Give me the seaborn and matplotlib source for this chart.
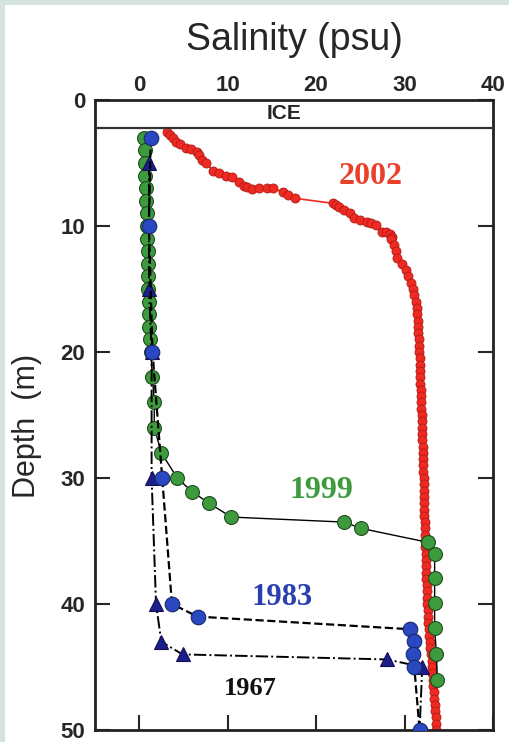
import matplotlib
matplotlib.use('Agg')
import matplotlib.pyplot as plt
import seaborn as sns
from matplotlib.patches import Rectangle

# salinity (psu) against depth (m)
depth_2002 = [2.5, 2.8, 3.0, 3.3, 3.5, 3.8, 3.9, 4.1, 4.4, 4.8, 5.0, 5.6, 5.8,
              6.0, 6.1, 6.5, 6.8, 6.9, 7.1, 7.0, 6.95, 7.0, 7.3, 7.5, 7.8,
              8.2, 8.3, 8.5, 8.7, 9.0, 9.4, 9.5, 9.7, 9.8, 9.9, 10.5, 10.5, 10.6, 10.9,
              11.0, 11.5, 12.0, 12.5,
              13.0, 13.5, 14.0, 14.5, 15.0, 15.5, 16.0, 16.5, 17.0, 17.5, 18.0,
              18.5, 19.0, 19.5, 20.0, 20.5, 21.0, 21.5, 22.0, 22.5, 23.0, 23.5,
              24.0, 24.5, 25.0, 25.5, 26.0, 26.5, 27.0, 27.5, 28.0, 28.5, 29.0,
              29.5, 30.0, 30.5, 31.0, 31.5, 32.0, 32.5, 33.0, 33.5, 34.0, 34.5,
              35.0, 35.5, 36.0, 36.5, 37.0, 37.5, 38.0, 38.5, 39.0, 39.5, 40.0,
              40.5, 41.0, 41.5, 42.0, 42.5, 43.0, 43.5, 44.0, 44.5, 45.0, 45.5,
              46.0, 46.5, 47.0, 47.5, 48.0, 48.5, 49.0, 49.5, 50.0]
sal_2002 = [3.1, 3.5, 3.8, 4.2, 4.6, 5.3, 5.8, 6.5, 6.8, 7.1, 7.6, 8.3, 9.0,
            9.8, 10.5, 11.3, 11.8, 12.2, 12.8, 13.5, 14.5, 15.1, 16.2, 16.8, 17.6,
            21.9, 22.3, 22.6, 23.2, 23.8, 24.3, 25.0, 25.7, 26.2, 26.8, 27.5, 27.9, 28.3, 28.6,
            28.5, 28.8, 29.0, 29.2,
            29.7, 30.2, 30.4, 30.7, 30.9, 31.1, 31.3, 31.4, 31.45, 31.5, 31.5,
            31.55, 31.6, 31.6, 31.65, 31.7, 31.7, 31.75, 31.8, 31.8, 31.85, 31.9,
            31.9, 31.9, 31.95, 31.95, 32.0, 32.0, 32.0, 32.05, 32.05, 32.1, 32.1,
            32.1, 32.15, 32.15, 32.2, 32.2, 32.2, 32.25, 32.25, 32.3, 32.3, 32.3,
            32.35, 32.35, 32.4, 32.4, 32.4, 32.45, 32.45, 32.5, 32.5, 32.5, 32.55,
            32.6, 32.6, 32.7, 32.75, 32.8, 32.85, 32.9, 33.0, 33.05, 33.1, 33.15,
            33.2, 33.25, 33.3, 33.35, 33.4, 33.45, 33.5, 33.55, 33.6]

depth_1999 = [3, 4, 5, 6, 7, 8, 9, 10, 11, 12, 13, 14, 15, 16, 17, 18, 19, 20,
              22, 24, 26, 28, 30, 31.1, 32.0, 33.1, 33.5, 34.0, 35.1, 36.0, 37.9,
              39.9, 41.9, 44.0, 46.0]
sal_1999 = [0.5, 0.6, 0.7, 0.7, 0.8, 0.8, 0.9, 0.9, 0.9, 1.0, 1.0, 1.0, 1.0, 1.1,
            1.1, 1.1, 1.2, 1.3, 1.5, 1.7, 1.7, 2.5, 4.3, 6.0, 7.9, 10.4, 23.2,
            25.1, 32.6, 33.4, 33.4, 33.4, 33.4, 33.6, 33.7]

depth_1983 = [3, 10, 20, 30, 40, 41, 42, 42.9, 44, 45, 50]
sal_1983 = [1.3, 1.1, 1.5, 2.6, 3.7, 6.6, 30.6, 31.1, 30.9, 31.1, 31.7]

depth_1967 = [5, 15, 20, 30, 40, 43, 44, 44.4, 45, 50]
sal_1967 = [1.1, 1.1, 1.4, 1.4, 1.9, 2.5, 4.9, 28.0, 32.0, 31.7]

ice_depth = 2.2
x_ticks = [0, 10, 20, 30, 40]
y_ticks = [0, 10, 20, 30, 40, 50]

sns.set_style('ticks')
plt.rcParams['font.family'] = ['Liberation Sans', 'DejaVu Sans']

fig = plt.figure(figsize=(5.09, 7.42), dpi=100, facecolor='#d4e3df')
fig.patches.append(Rectangle((5 / 509, 0), 1, 1 - 5 / 742, transform=fig.transFigure,
                             facecolor='white', edgecolor='none', zorder=-5))
ax = fig.add_axes([95 / 509, 12 / 742, 398 / 509, 630 / 742])
ax.set_zorder(2)
ax.set_facecolor('white')

sns.lineplot(x=sal_2002, y=depth_2002, sort=False, estimator=None, ax=ax,
             color='#ee2a22', lw=1.2, marker='o', markersize=6.5,
             markerfacecolor='#ee2a22', markeredgecolor='#b01a14',
             markeredgewidth=0.6, zorder=2)
sns.lineplot(x=sal_1999, y=depth_1999, sort=False, estimator=None, ax=ax,
             color='black', lw=1.0, marker='o', markersize=10,
             markerfacecolor='#3d9b3d', markeredgecolor='#1e4d1e',
             markeredgewidth=0.8, zorder=3)
sns.lineplot(x=sal_1967, y=depth_1967, sort=False, estimator=None, ax=ax,
             color='black', lw=1.4, linestyle='-.', marker='^', markersize=10.5,
             markerfacecolor='#1c1f8a', markeredgecolor='#101050',
             markeredgewidth=0.8, zorder=4)
sns.lineplot(x=sal_1983, y=depth_1983, sort=False, estimator=None, ax=ax,
             color='black', lw=1.6, linestyle='--', marker='o', markersize=10.5,
             markerfacecolor='#2a48c0', markeredgecolor='#18286e',
             markeredgewidth=0.8, zorder=5)

# ice cover band
ax.axhline(ice_depth, color='#333333', lw=1.6, zorder=6)
ax.text(16.4, 1.1, 'ICE', fontsize=15, fontweight='bold', ha='center', va='center')

# year labels
serif = ['Liberation Serif', 'DejaVu Serif']
ax.text(26.2, 6.1, '2002', color='#e8402a', fontsize=23, fontweight='bold', family=serif, ha='center', va='center')
ax.text(20.6, 31.0, '1999', color='#3d9b3d', fontsize=23, fontweight='bold', family=serif, ha='center', va='center')
ax.text(16.1, 39.5, '1983', color='#2a3fb0', fontsize=22, fontweight='bold', family=serif, ha='center', va='center')
ax.text(12.5, 46.7, '1967', color='#111111', fontsize=19, fontweight='bold', family=serif, ha='center', va='center')

ax.set_xlim(-5, 40)
ax.set_ylim(50, 0)
ax.set_xticks(x_ticks)
ax.set_yticks(y_ticks)
ax.set_xlabel('')
ax.set_ylabel('')
ax.tick_params(axis='x', bottom=True, top=False, labelbottom=False, labeltop=True,
               direction='in', length=11, width=1.5, pad=3, labelsize=16)
ax.tick_params(axis='y', left=True, right=True, labelleft=True, labelright=False,
               direction='in', length=11, width=1.5, pad=7, labelsize=16)
for lab in ax.get_xticklabels() + ax.get_yticklabels():
    lab.set_fontweight('bold')
for sp in ax.spines.values():
    sp.set_linewidth(2)
    sp.set_color('#222222')

fig.text(294 / 509, 1 - 40 / 742, 'Salinity (psu)', fontsize=27, ha='center', va='center')
fig.text(27 / 509, 1 - 426 / 742, 'Depth  (m)', fontsize=22, rotation=90, ha='center', va='center')

fig.savefig('out.png', dpi=100)
